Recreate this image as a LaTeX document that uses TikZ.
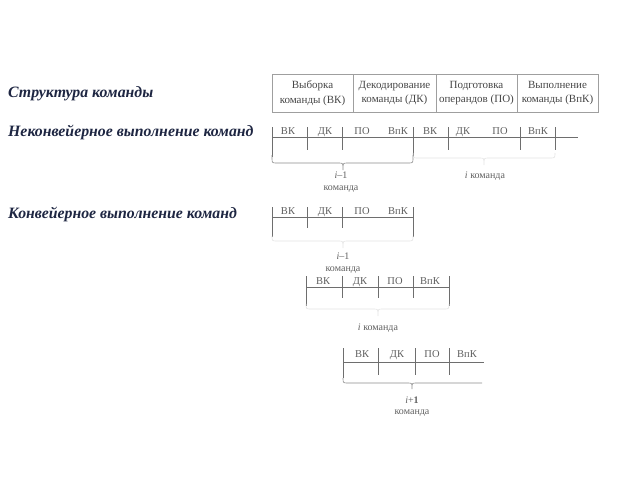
\documentclass[tikz,border=0pt]{standalone}
\usepackage{fontspec}
\setmainfont{Liberation Serif}
\definecolor{navy}{RGB}{30,38,66}
\definecolor{txtgray}{RGB}{70,70,70}
\definecolor{stgray}{RGB}{95,95,95}
\definecolor{lngray}{RGB}{110,110,110}
\newcommand{\mybrace}[6]{%
  \draw[#1] (#2,#5) -- (#2,#6-5) .. controls (#2,#6) .. (#2+5,#6) -- (#4-4,#6)
    .. controls (#4,#6) .. (#4,#6+7) .. controls (#4,#6) .. (#4+4,#6)
    -- (#3-5,#6) .. controls (#3,#6) .. (#3,#6-5) -- (#3,#5);}
\tikzset{
  lbl/.style={font=\fontsize{15.8}{18}\selectfont\bfseries\itshape, text=navy, anchor=base west, inner sep=0pt},
  cell/.style={font=\fontsize{11}{14.5}\selectfont, text=txtgray, align=center, inner sep=0pt},
  stage/.style={font=\fontsize{10.5}{12}\selectfont, text=stgray, inner sep=0pt, anchor=base},
  cmd/.style={font=\fontsize{10}{11}\selectfont, text=stgray, inner sep=0pt, anchor=base},
  tl/.style={draw=lngray, line width=0.6pt},
  brc/.style={draw=lngray!80, line width=0.6pt},
  faint/.style={draw=gray!22, line width=0.6pt},
  tbl/.style={draw=gray!75, line width=0.6pt}
}
\begin{document}
\begin{tikzpicture}[x=1pt,y=-1pt]
\useasboundingbox (0,0) rectangle (640,480);
% left labels
\node[lbl] (l1) at (8,97) {Структура команды};
\node[lbl] (l2) at (8,136) {Неконвейерное выполнение команд};
\node[lbl] (l3) at (8,218) {Конвейерное выполнение команд};
% table
\draw[tbl] (272,74) rectangle (598,112);
\draw[tbl] (353,74) -- (353,112) (436,74) -- (436,112) (517,74) -- (517,112);
\node[cell] (c1) at (312.5,93) {Выборка\\команды (ВК)};
\node[cell] (c2) at (394.5,93) {Декодирование\\команды (ДК)};
\node[cell] (c3) at (476.5,93) {Подготовка\\операндов (ПО)};
\node[cell] (c4) at (557.5,93) {Выполнение\\команды (ВпК)};
% non-conveyor row
\draw[tl] (272,137) -- (578,137);
\draw[tl] (272,127) -- (272,157) (413,127) -- (413,157) (555,127) -- (555,150);
\draw[tl] (307,127) -- (307,150) (342,127) -- (342,150) (448,127) -- (448,150) (520,127) -- (520,150);
\node[stage] (n1) at (288,134) {ВК};
\node[stage] (n2) at (325,134) {ДК};
\node[stage] (n3) at (362,134) {ПО};
\node[stage] (n4) at (398,134) {ВпК};
\node[stage] (n5) at (430,134) {ВК};
\node[stage] (n6) at (463,134) {ДК};
\node[stage] (n7) at (500,134) {ПО};
\node[stage] (n8) at (538,134) {ВпК};
\mybrace{brc}{272}{413}{343}{155}{163}
\mybrace{faint}{413}{555}{484}{155}{158}
\node[cmd] (nb1) at (341,178) {\textit{i}–1};
\node[cmd] (nb1b) at (341,190) {команда};
\node[cmd] (nb2) at (485,178) {\textit{i} команда};
% conveyor row 1
\draw[tl] (272,217) -- (413,217);
\draw[tl] (272,207) -- (272,237) (413,207) -- (413,237);
\draw[tl] (307,207) -- (307,228) (342,207) -- (342,228);
\node[stage] (a1) at (288,214) {ВК};
\node[stage] (a2) at (325,214) {ДК};
\node[stage] (a3) at (362,214) {ПО};
\node[stage] (a4) at (398,214) {ВпК};
\mybrace{faint}{272}{413}{343}{236}{241}
\node[cmd] (ab1) at (343,259) {\textit{i}–1};
\node[cmd] (ab1b) at (343,271) {команда};
% conveyor row 2
\draw[tl] (306,287) -- (449,287);
\draw[tl] (306,276) -- (306,306) (449,276) -- (449,306);
\draw[tl] (342,276) -- (342,298) (378,276) -- (378,298) (413,276) -- (413,298);
\node[stage] (b1) at (323,284) {ВК};
\node[stage] (b2) at (360,284) {ДК};
\node[stage] (b3) at (395,284) {ПО};
\node[stage] (b4) at (430,284) {ВпК};
\mybrace{faint}{306}{449}{378}{305}{309}
\node[cmd] (bb1) at (378,330) {\textit{i} команда};
% conveyor row 3
\draw[tl] (343,362) -- (484,362);
\draw[tl] (343,348) -- (343,378);
\draw[tl] (378,348) -- (378,375) (415,348) -- (415,375) (449,348) -- (449,375);
\node[stage] (d1) at (362,357) {ВК};
\node[stage] (d2) at (397,357) {ДК};
\node[stage] (d3) at (432,357) {ПО};
\node[stage] (d4) at (467,357) {ВпК};
\draw[brc] (343,378) .. controls (343,383) .. (348,383) -- (408,383) .. controls (412,383) .. (412,389) .. controls (412,383) .. (416,383) -- (482,383);
\node[cmd] (db1) at (412,403) {\textit{i}+\textbf{1}};
\node[cmd] (db1b) at (412,414) {команда};
\end{tikzpicture}
\end{document}
